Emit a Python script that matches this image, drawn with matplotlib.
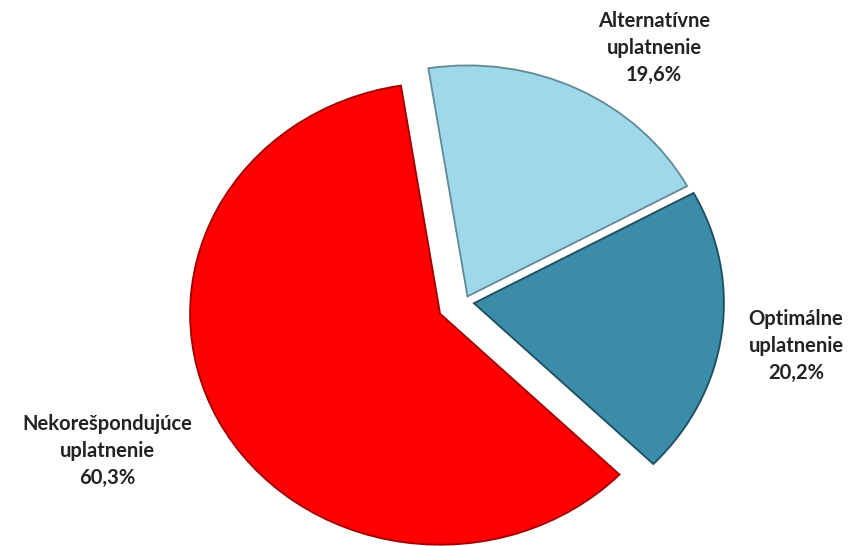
import matplotlib
matplotlib.use("Agg")
import matplotlib.pyplot as plt

labels = ["Alternatívne\nuplatnenie", "Optimálne\nuplatnenie", "Nekorešpondujúce\nuplatnenie"]
values = [19.6, 20.2, 60.3]
colors = ["#9fd8e9", "#3a8ca8", "#ff0000"]
edges = ["#5f8a96", "#1d4d5e", "#a00000"]
explode = [0.027, 0.038, 0.11]

plt.rcParams['font.family'] = ['Lato', 'DejaVu Sans']

fig = plt.figure(figsize=(8.52, 5.46), dpi=100)
ax = fig.add_axes([0, 0, 1, 1])

wedges, _ = ax.pie(values, colors=colors, explode=explode, startangle=99,
                   counterclock=False, radius=1.0,
                   wedgeprops=dict(linewidth=1.3))
for w, ec in zip(wedges, edges):
    w.set_edgecolor(ec)

# pixels per unit (pie is slightly squashed vertically), center in px from top-left
sx, sy = 250.0, 231.0
cx, cy = 464.5, 302
ax.set_xlim(-cx / sx, (852 - cx) / sx)
ax.set_ylim(-(546 - cy) / sy, cy / sy)
ax.set_aspect('auto')
ax.axis('off')

label_pos = [(654, 48), (796, 346), (107, 451)]
for lab, v, (px, py) in zip(labels, values, label_pos):
    txt = lab + "\n" + f"{v:.1f}%".replace(".", ",")
    fig.text(px / 852, 1 - py / 546, txt, ha='center', va='center',
             fontsize=14.5, fontweight='bold', color='#222222', linespacing=1.45)

fig.savefig("out.png", dpi=100)
